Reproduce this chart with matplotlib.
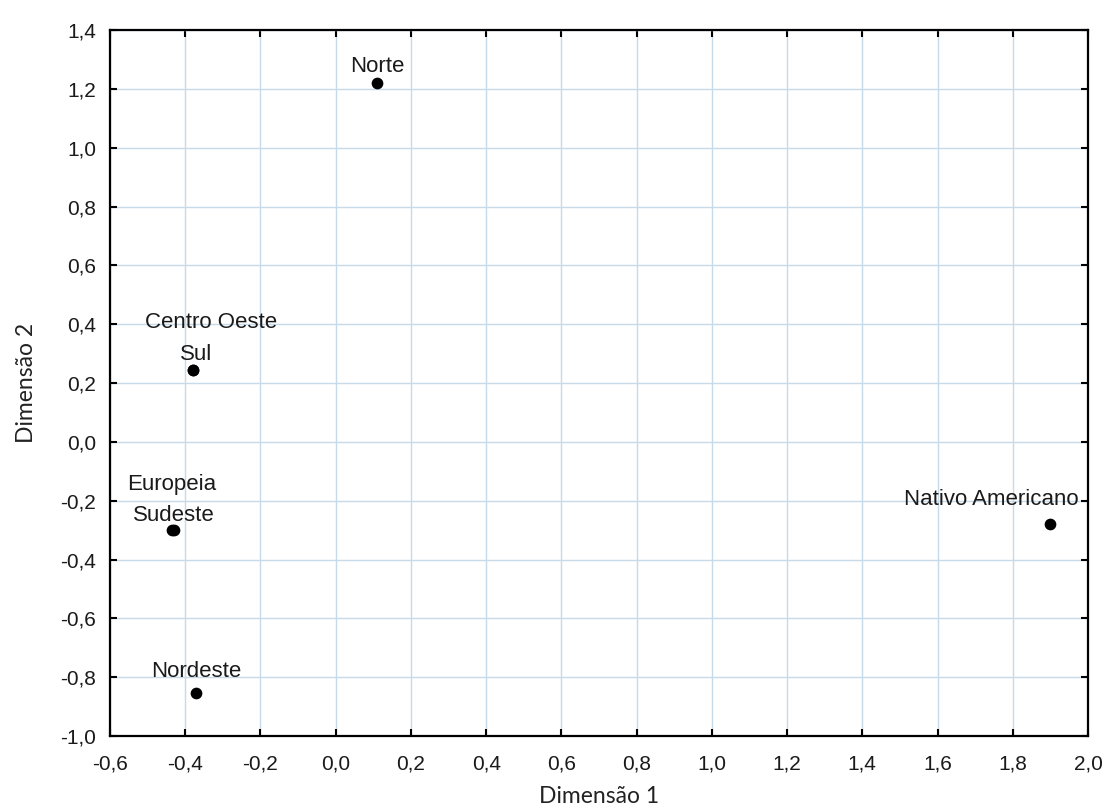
import matplotlib
matplotlib.use("Agg")
import matplotlib.pyplot as plt
from matplotlib.ticker import MultipleLocator, FuncFormatter

# dimension scores
names = ["Norte", "Centro Oeste", "Sul", "Europeia", "Sudeste", "Nordeste", "Nativo Americano"]
dim1 = [0.11, -0.38, -0.379, -0.435, -0.43, -0.371, 1.90]
dim2 = [1.22, 0.245, 0.244, -0.30, -0.301, -0.855, -0.28]

# label placement (offset in points, horizontal alignment)
offsets = [(0, 8), (13, 30), (2, 7), (0, 29), (0, 7), (0, 11.5), (20, 13.7)]
aligns = ["center", "center", "center", "center", "center", "center", "right"]

fig = plt.figure(figsize=(11.06, 8.09), dpi=100)
ax = fig.add_axes([0.0995, 0.0902, 0.8842, 0.8727])

ax.scatter(dim1, dim2, s=55, color="black", zorder=3)
for n, x, y, off, ha in zip(names, dim1, dim2, offsets, aligns):
    ax.annotate(n, (x, y), xytext=off, textcoords="offset points",
                ha=ha, va="baseline", fontsize=16, family="Liberation Sans", color="#1a1a1a")

ax.set_xlim(-0.6, 2.0)
ax.set_ylim(-1.0, 1.4)
ax.xaxis.set_major_locator(MultipleLocator(0.2))
ax.yaxis.set_major_locator(MultipleLocator(0.2))
fmt = FuncFormatter(lambda v, p: ("%.1f" % v).replace(".", ",").replace("-0,0", "0,0"))
ax.xaxis.set_major_formatter(fmt)
ax.yaxis.set_major_formatter(fmt)

ax.grid(True, color="#c6daea", linewidth=1)
ax.set_axisbelow(True)
ax.tick_params(direction="in", top=True, right=True, length=5, width=1.5,
               labelsize=15, colors="black")
ax.tick_params(axis="x", pad=13)
ax.tick_params(axis="y", pad=10)
for lab in ax.get_xticklabels() + ax.get_yticklabels():
    lab.set_family("Liberation Sans")
    lab.set_color("#1a1a1a")
for s in ax.spines.values():
    s.set_linewidth(1.6)

ax.set_xlabel("Dimensão 1", fontsize=16.5, family="Lato", labelpad=9, color="#222222")
ax.set_ylabel("Dimensão 2", fontsize=16.5, family="Lato", labelpad=17, color="#222222")

fig.savefig("out.png", dpi=100)
